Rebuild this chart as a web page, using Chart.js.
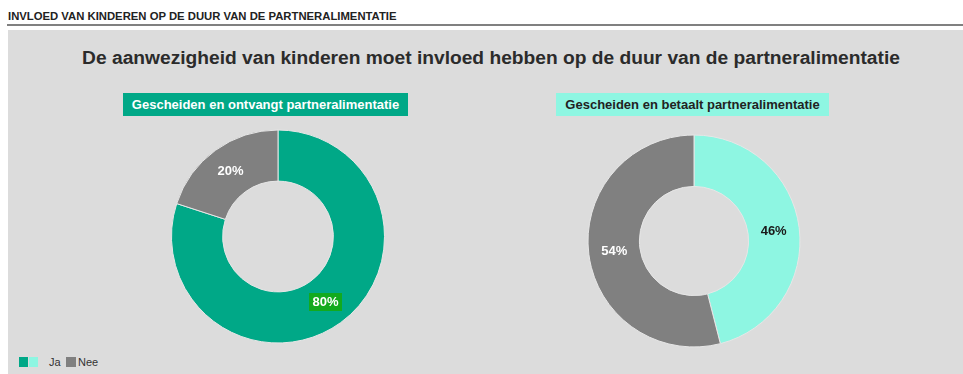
<!DOCTYPE html>
<html><head><meta charset="utf-8">
<script src="https://cdn.jsdelivr.net/npm/chart.js@4"></script>
<style>
html,body{margin:0;padding:0;width:963px;height:374px;overflow:hidden;background:#fff;font-family:"Liberation Sans",Arial,sans-serif;}
#hdr{position:absolute;left:8px;top:10px;font-size:11.3px;font-weight:bold;color:#222;white-space:nowrap}
#line{position:absolute;left:7px;top:24px;width:956px;height:2px;background:#808080}
#panel{position:absolute;left:8px;top:30px;width:955px;height:344px;background:#dcdcdc}
#title{position:absolute;left:0;top:47px;width:982px;text-align:center;font-size:19.2px;font-weight:bold;color:#2b2b2b;white-space:nowrap}
.box{position:absolute;top:93px;height:23px;line-height:23px;font-size:13px;font-weight:bold;text-align:center;white-space:nowrap}
#b1{left:123px;width:285px;background:#00a887;color:#fff}
#b2{left:556px;width:273px;background:#8ef6e2;color:#222}
canvas{position:absolute}
#legend{position:absolute;left:19px;top:356px;font-size:11px;color:#333;height:12px;line-height:12px}
.sw{position:absolute;top:1px;width:9px;height:10px}
</style></head>
<body>
<div id="hdr"></div>
<div id="line"></div>
<div id="panel"></div>
<div id="title"></div>
<div class="box" id="b1"></div>
<div class="box" id="b2"></div>
<canvas id="c1" width="230" height="231" style="left:163px;top:121px;width:230px;height:231px"></canvas>
<canvas id="c2" width="230" height="230" style="left:579px;top:126px;width:230px;height:230px"></canvas>
<div id="legend">
  <span class="sw" style="left:0;background:#00a887"></span>
  <span class="sw" style="left:10px;background:#8ef6e2"></span>
  <span style="position:absolute;left:30px;top:0">Ja</span>
  <span class="sw" style="left:47px;width:10px;background:#808080"></span>
  <span style="position:absolute;left:59px;top:0">Nee</span>
</div>
<script>
// ---- data ----
const headerText = 'INVLOED VAN KINDEREN OP DE DUUR VAN DE PARTNERALIMENTATIE';
const chartTitle = 'De aanwezigheid van kinderen moet invloed hebben op de duur van de partneralimentatie';
const groupTitles = ['Gescheiden en ontvangt partneralimentatie', 'Gescheiden en betaalt partneralimentatie'];
const categories = ['Ja', 'Nee'];
const ontvangtValues = [80, 20];
const betaaltValues = [46, 54];

document.getElementById('hdr').textContent = headerText;
document.getElementById('title').textContent = chartTitle;
document.getElementById('b1').textContent = groupTitles[0];
document.getElementById('b2').textContent = groupTitles[1];

const labelPlugin = {
  id: 'pctLabels',
  afterDatasetsDraw(chart) {
    const ctx = chart.ctx;
    const ds = chart.data.datasets[0];
    const meta = chart.getDatasetMeta(0);
    const styles = chart.options.plugins.pctLabels.styles;
    ctx.save();
    ctx.font = 'bold 13px "Liberation Sans", Arial, sans-serif';
    ctx.textAlign = 'center';
    ctx.textBaseline = 'middle';
    meta.data.forEach((arc, i) => {
      const p = arc.tooltipPosition();
      const txt = ds.data[i] + '%';
      const st = styles[i];
      if (st.bg) {
        const w = ctx.measureText(txt).width + 7;
        ctx.fillStyle = st.bg;
        ctx.fillRect(Math.round(p.x - w / 2), Math.round(p.y - 9), Math.round(w), 18);
      }
      ctx.fillStyle = st.color;
      ctx.fillText(txt, p.x, p.y + 0.5);
    });
    ctx.restore();
  }
};

function makeChart(id, values, colors, radius, cutout, styles) {
  new Chart(document.getElementById(id), {
    type: 'doughnut',
    data: { labels: categories, datasets: [{ data: values, backgroundColor: colors, borderColor: '#e6e6e6', borderWidth: 1 }] },
    options: {
      responsive: false, animation: false, radius: radius, cutout: cutout,
      layout: { padding: 0 },
      plugins: { legend: { display: false }, tooltip: { enabled: false }, pctLabels: { styles: styles } }
    },
    plugins: [labelPlugin]
  });
}
makeChart('c1', ontvangtValues, ['#00a887', '#808080'], 106.5, '52%',
  [{ color: '#ffffff', bg: '#12aa1e' }, { color: '#ffffff' }]);
makeChart('c2', betaaltValues, ['#8ef6e2', '#808080'], 106, '51.5%',
  [{ color: '#1a1a1a' }, { color: '#ffffff' }]);
</script>
</body></html>
